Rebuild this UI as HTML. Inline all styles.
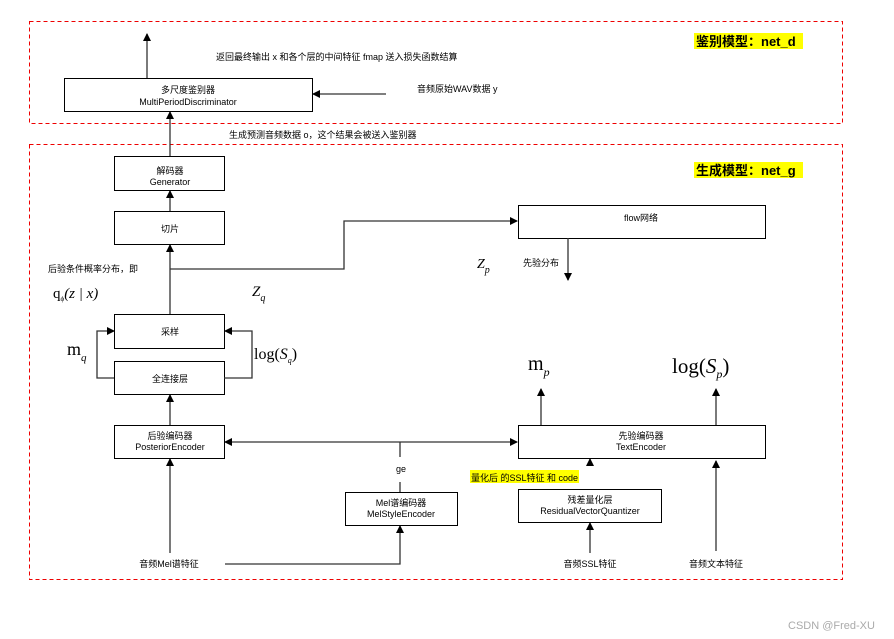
<!DOCTYPE html>
<html><head><meta charset="utf-8"><style>
html,body{margin:0;padding:0;background:#fff;}
svg{display:block;}
text{font-family:"Liberation Sans","Noto Sans CJK SC",sans-serif;font-size:9px;fill:#000;}
.m{font-family:"Liberation Serif",serif;}
</style></head><body>
<svg width="894" height="639" viewBox="0 0 894 639" xmlns="http://www.w3.org/2000/svg">
<defs>
<marker id="a" markerWidth="8" markerHeight="8" refX="7" refY="4" orient="auto" markerUnits="userSpaceOnUse"><path d="M0,0 L8,4 L0,8 z" fill="#000"/></marker>
</defs>
<rect x="29.5" y="21.5" width="813" height="102" fill="none" stroke="#e00" stroke-dasharray="4,3"/>
<rect x="29.5" y="144.5" width="813" height="435" fill="none" stroke="#e00" stroke-dasharray="4,3"/>
<rect x="694" y="33" width="109" height="16" fill="#ff0"/>
<text x="696" y="46" style="font-size:13px;font-weight:bold">鉴别模型：net_d</text>
<rect x="694" y="162" width="109" height="16" fill="#ff0"/>
<text x="696" y="175" style="font-size:13px;font-weight:bold">生成模型：net_g</text>
<g fill="#fff" stroke="#000" stroke-width="1">
<rect x="64.5" y="78.5" width="248" height="33"/>
<rect x="114.5" y="156.5" width="110" height="34"/>
<rect x="114.5" y="211.5" width="110" height="33"/>
<rect x="518.5" y="205.5" width="247" height="33"/>
<rect x="114.5" y="314.5" width="110" height="34"/>
<rect x="114.5" y="361.5" width="110" height="33"/>
<rect x="114.5" y="425.5" width="110" height="33"/>
<rect x="345.5" y="492.5" width="112" height="33"/>
<rect x="518.5" y="425.5" width="247" height="33"/>
<rect x="518.5" y="489.5" width="143" height="33"/>
</g>
<g stroke="#333" stroke-width="1.3" fill="none" marker-end="url(#a)">
<path d="M147,78 V34"/>
<path d="M386,94 H313"/>
<path d="M170,156 V112"/>
<path d="M170,211 V191"/>
<path d="M170,314 V245"/>
<path d="M170,269 H344 V221 H517"/>
<path d="M568,238 V280"/>
<path d="M114,378 H97 V331 H114"/>
<path d="M224,378 H252 V331 H225"/>
<path d="M170,425 V395"/>
<path d="M400,442 H225"/>
<path d="M400,442 H517"/>
<path d="M170,553 V459"/>
<path d="M225,564 H400 V526"/>
<path d="M541,425 V389"/>
<path d="M716,425 V389"/>
<path d="M590,462 V459"/>
<path d="M590,553 V523"/>
<path d="M716,551 V461"/>
</g>
<path d="M400,442 V457 M400,482 V492" stroke="#333" stroke-width="1.3"/>
<text x="216" y="60">返回最终输出 x 和各个层的中间特征 fmap 送入损失函数结算</text>
<text x="417" y="92">音频原始WAV数据 y</text>
<text x="229" y="138">生成预测音频数据 o，这个结果会被送入鉴别器</text>
<g text-anchor="middle">
<text x="188" y="93">多尺度鉴别器</text><text x="188" y="105">MultiPeriodDiscriminator</text>
<text x="170" y="174">解码器</text><text x="170" y="185">Generator</text>
<text x="170" y="232">切片</text>
<text x="641" y="221">flow网络</text>
<text x="170" y="335">采样</text>
<text x="170" y="382">全连接层</text>
<text x="170" y="439">后验编码器</text><text x="170" y="450">PosteriorEncoder</text>
<text x="401" y="472">ge</text>
<text x="401" y="506">Mel谱编码器</text><text x="401" y="517">MelStyleEncoder</text>
<text x="641" y="439">先验编码器</text><text x="641" y="450">TextEncoder</text>
<text x="590" y="503">残差量化层</text><text x="590" y="514">ResidualVectorQuantizer</text>
<text x="169" y="567">音频Mel谱特征</text>
<text x="590" y="567">音频SSL特征</text>
<text x="716" y="567">音频文本特征</text>
</g>
<text x="523" y="266">先验分布</text>
<text x="48" y="272">后验条件概率分布，即</text>
<rect x="470" y="470" width="109" height="13" fill="#ff0"/>
<text x="471" y="481">量化后 的SSL特征 和 code</text>
<text class="m" x="53" y="298" style="font-size:15px">q<tspan style="font-size:7px" dy="3">ϕ</tspan><tspan dy="-3" font-style="italic">(z | x)</tspan></text>
<text class="m" x="252" y="296" style="font-size:15px;font-style:italic">Z<tspan style="font-size:10px" dy="5">q</tspan></text>
<text class="m" x="477" y="268" style="font-size:14px;font-style:italic">Z<tspan style="font-size:10px" dy="5">p</tspan></text>
<text class="m" x="67" y="355" style="font-size:18px">m<tspan style="font-size:11px;font-style:italic" dy="6">q</tspan></text>
<text class="m" x="254" y="359" style="font-size:16px">log(<tspan font-style="italic">S</tspan><tspan style="font-size:8px;font-style:italic" dy="4">q</tspan><tspan dy="-4">)</tspan></text>
<text class="m" x="528" y="370" style="font-size:20px">m<tspan style="font-size:12px;font-style:italic" dy="6">p</tspan></text>
<text class="m" x="672" y="373" style="font-size:21px">log(<tspan font-style="italic">S</tspan><tspan style="font-size:12px;font-style:italic" dy="5">p</tspan><tspan dy="-5">)</tspan></text>
<text x="788" y="629" style="font-size:11px;fill:#aaa">CSDN @Fred-XU</text>
</svg>
</body></html>
